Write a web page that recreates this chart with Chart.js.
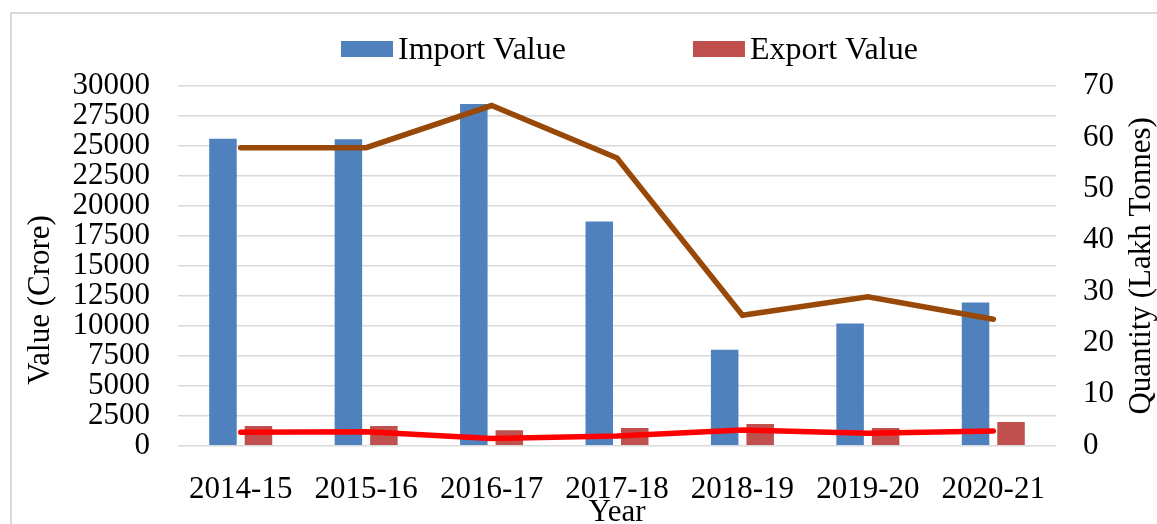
<!DOCTYPE html>
<html>
<head>
<meta charset="utf-8">
<script src="https://cdn.jsdelivr.net/npm/chart.js@4.4.1/dist/chart.umd.min.js"></script>
<style>
  html, body { margin: 0; padding: 0; background: #fff; }
</style>
</head>
<body>
<canvas id="tradeChart" width="1157" height="524"></canvas>
<script>
// values
const years = ["2014-15", "2015-16", "2016-17", "2017-18", "2018-19", "2019-20", "2020-21"];
const importValue = [25600, 25550, 28500, 18700, 8000, 10200, 11950];
const exportValue = [1640, 1640, 1280, 1475, 1800, 1475, 1975];
const importQuantity = [58, 58, 66.2, 56, 25.4, 29, 24.6];
const exportQuantity = [2.6, 2.7, 1.4, 1.9, 3.05, 2.4, 2.85];

const valueAxisTitle = "Value (Crore)";
const quantityAxisTitle = "Quantity (Lakh Tonnes)";
const yearAxisTitle = "Year";

const FONT = "'Liberation Serif', 'Times New Roman', serif";

// frame, legend and the two rotated axis titles
const decorations = {
  id: "decorations",
  beforeDraw(chart) {
    const ctx = chart.ctx;
    ctx.save();
    ctx.strokeStyle = "#d9d9d9";
    ctx.lineWidth = 2;
    ctx.strokeRect(11, 13, chart.width + 100, chart.height + 100);
    ctx.restore();
  },
  afterDraw(chart) {
    const ctx = chart.ctx;
    const area = chart.chartArea;
    const midY = (area.top + area.bottom) / 2;
    ctx.save();
    ctx.fillStyle = "#000";
    ctx.textBaseline = "middle";

    ctx.font = "31px " + FONT;
    ctx.textAlign = "center";
    ctx.save();
    ctx.translate(41, midY + 34);
    ctx.rotate(-Math.PI / 2);
    ctx.fillText(valueAxisTitle, 0, 0);
    ctx.restore();
    ctx.save();
    ctx.translate(1142, midY);
    ctx.rotate(-Math.PI / 2);
    ctx.fillText(quantityAxisTitle, 0, 0);
    ctx.restore();

    // legend (bar series only)
    ctx.font = "32px " + FONT;
    ctx.textAlign = "left";
    let x = 341;
    chart.data.datasets.filter(ds => ds.type === "bar").forEach(ds => {
      ctx.fillStyle = ds.backgroundColor;
      ctx.fillRect(x, 41, 52, 16);
      ctx.fillStyle = "#000";
      ctx.fillText(ds.label, x + 57, 50.5);
      x += 57 + ctx.measureText(ds.label).width + 127;
    });
    ctx.restore();
  }
};

const ctx = document.getElementById("tradeChart").getContext("2d");
new Chart(ctx, {
  data: {
    labels: years,
    datasets: [
      {
        type: "line",
        label: "Import Quantity",
        data: importQuantity,
        yAxisID: "y1",
        borderColor: "#984807",
        borderWidth: 5.5,
        borderCapStyle: "round",
        pointRadius: 0,
        tension: 0,
        order: 0
      },
      {
        type: "line",
        label: "Export Quantity",
        data: exportQuantity,
        yAxisID: "y1",
        borderColor: "#ff0000",
        borderWidth: 5.5,
        borderCapStyle: "round",
        pointRadius: 0,
        tension: 0,
        order: 0
      },
      {
        type: "bar",
        label: "Import Value",
        data: importValue,
        yAxisID: "y",
        backgroundColor: "#4f81bd",
        categoryPercentage: 0.566,
        barPercentage: 0.775,
        order: 1
      },
      {
        type: "bar",
        label: "Export Value",
        data: exportValue,
        yAxisID: "y",
        backgroundColor: "#c0504d",
        categoryPercentage: 0.566,
        barPercentage: 0.775,
        order: 1
      }
    ]
  },
  options: {
    responsive: false,
    animation: false,
    layout: { padding: { top: 86, left: 0, right: 0, bottom: 0 } },
    plugins: {
      legend: { display: false },
      tooltip: { enabled: false }
    },
    scales: {
      x: {
        grid: { display: false },
        border: { display: false },
        ticks: {
          color: "#000",
          padding: 21,
          font: { family: FONT, size: 31, lineHeight: 1 }
        },
        title: {
          display: true,
          text: yearAxisTitle,
          color: "#000",
          padding: { top: 0, bottom: 0 },
          font: { family: FONT, size: 31, lineHeight: 0.71 }
        },
        afterFit(scale) { scale.height = 78.3; }
      },
      y: {
        position: "left",
        min: 0,
        max: 30000,
        grid: { color: "#d9d9d9", lineWidth: 1.5, drawTicks: false },
        border: { display: false },
        ticks: {
          stepSize: 2500,
          autoSkip: false,
          format: { useGrouping: false },
          color: "#000",
          padding: 28,
          font: { family: FONT, size: 31, lineHeight: 1 }
        },
        afterFit(scale) { scale.width = 178; }
      },
      y1: {
        position: "right",
        min: 0,
        max: 70,
        grid: { drawOnChartArea: false, drawTicks: false },
        border: { display: false },
        ticks: {
          stepSize: 10,
          autoSkip: false,
          color: "#000",
          padding: 27,
          font: { family: FONT, size: 31, lineHeight: 1 }
        },
        afterFit(scale) { scale.width = 101; }
      }
    }
  },
  plugins: [decorations]
});
</script>
</body>
</html>
